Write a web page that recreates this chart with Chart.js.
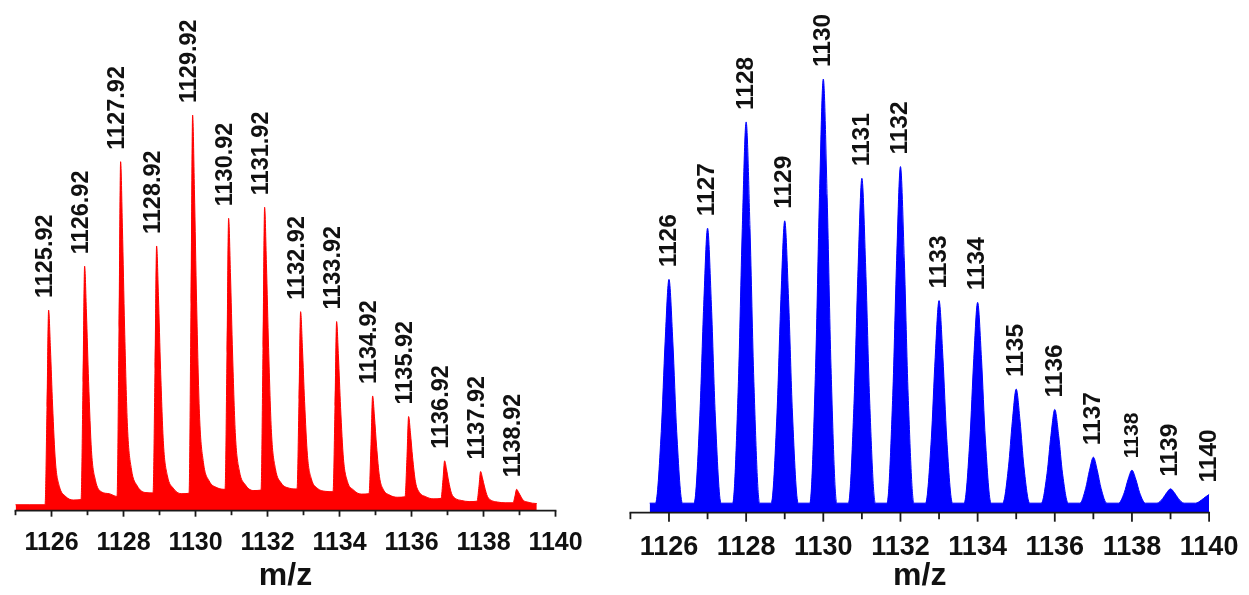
<!DOCTYPE html>
<html>
<head>
<meta charset="utf-8">
<script src="https://cdn.jsdelivr.net/npm/chart.js@4.4.1/dist/chart.umd.min.js"></script>
<style>
  html, body { margin: 0; padding: 0; background: #fff; }
  #wrap { position: relative; width: 1249px; height: 595px; overflow: hidden; background: #fff; }
  .panel { position: absolute; top: 0; height: 595px; }
  #left { left: 0; width: 600px; }
  #right { left: 600px; width: 649px; }
  canvas { display: block; }
</style>
</head>
<body>
<div id="wrap">
  <div class="panel" id="left"><canvas id="expChart" width="600" height="595"></canvas></div>
  <div class="panel" id="right"><canvas id="simChart" width="649" height="595"></canvas></div>
</div>
<script>
// ---- Measured spectrum (red): m/z and relative intensity profile ----
const expMz = [
  1125.00, 1125.40,
  1125.82, 1125.875, 1125.92, 1125.97, 1126.03, 1126.11, 1126.22, 1126.38, 1126.60,
  1126.82, 1126.875, 1126.92, 1126.97, 1127.03, 1127.11, 1127.22, 1127.38, 1127.60,
  1127.82, 1127.875, 1127.92, 1127.97, 1128.03, 1128.11, 1128.22, 1128.38, 1128.60,
  1128.82, 1128.875, 1128.92, 1128.97, 1129.03, 1129.11, 1129.22, 1129.38, 1129.60,
  1129.82, 1129.875, 1129.92, 1129.97, 1130.03, 1130.11, 1130.22, 1130.38, 1130.60,
  1130.82, 1130.875, 1130.92, 1130.97, 1131.03, 1131.11, 1131.22, 1131.38, 1131.60,
  1131.82, 1131.875, 1131.92, 1131.97, 1132.03, 1132.11, 1132.22, 1132.38, 1132.60,
  1132.82, 1132.875, 1132.92, 1132.97, 1133.03, 1133.11, 1133.22, 1133.38, 1133.60,
  1133.82, 1133.875, 1133.92, 1133.97, 1134.03, 1134.11, 1134.22, 1134.38, 1134.60,
  1134.82, 1134.875, 1134.92, 1134.97, 1135.03, 1135.11, 1135.22, 1135.38, 1135.60,
  1135.82, 1135.875, 1135.92, 1135.97, 1136.03, 1136.11, 1136.22, 1136.38, 1136.60,
  1136.82, 1136.875, 1136.92, 1136.97, 1137.03, 1137.11, 1137.22, 1137.38, 1137.60,
  1137.82, 1137.875, 1137.92, 1137.97, 1138.03, 1138.11, 1138.22, 1138.38, 1138.60,
  1138.82, 1138.875, 1138.92, 1138.97, 1139.03, 1139.11, 1139.22, 1139.36, 1139.48
];
const expIntensity = [
  1.5, 1.5,
  1.5, 26.1, 50.7, 41.1, 26.7, 12.3, 6.1, 3.7, 2.7,
  2.8, 32.3, 61.8, 50.2, 32.7, 15.2, 7.7, 4.8, 4.3,
  3.6, 45.9, 88.2, 71.5, 46.4, 21.3, 10.5, 6.3, 4.6,
  4.5, 35.8, 66.9, 54.4, 35.7, 16.9, 8.8, 5.7, 4.3,
  4.4, 52.2, 100.0, 81.1, 52.8, 24.5, 12.2, 7.5, 5.8,
  5.4, 39.8, 73.9, 60.2, 39.6, 18.9, 10.0, 6.6, 5.1,
  5.2, 41.0, 76.7, 62.5, 41.2, 19.8, 10.6, 7.0, 5.7,
  5.5, 28.0, 50.3, 41.2, 27.6, 13.9, 8.0, 5.7, 4.9,
  4.8, 26.3, 47.8, 39.1, 26.1, 13.1, 7.4, 5.3, 4.2,
  4.3, 16.7, 29.0, 23.9, 16.3, 8.6, 5.3, 4.0, 3.4,
  3.5, 13.7, 23.8, 19.7, 13.5, 7.3, 4.6, 3.6, 3.0,
  3.1, 7.9, 12.6, 10.6, 7.5, 4.4, 3.1, 2.6, 2.3,
  2.4, 6.2, 9.9, 8.3, 6.0, 3.6, 2.6, 2.2, 2.0,
  2.0, 3.7, 5.4, 4.7, 3.7, 2.6, 2.2, 1.9, 1.8
];
// Labelled peaks of the measured spectrum
const expPeakMz = [1125.92, 1126.92, 1127.92, 1128.92, 1129.92, 1130.92, 1131.92,
                   1132.92, 1133.92, 1134.92, 1135.92, 1136.92, 1137.92, 1138.92];
const expPeakIntensity = [50.7, 61.8, 88.2, 66.9, 100.0, 73.9, 76.7,
                          50.3, 47.8, 29.0, 23.8, 12.6, 9.9, 5.4];

// ---- Simulated isotope pattern (blue) ----
const simMz = [
  1125.50,
  1125.65, 1125.80, 1125.90, 1126.00, 1126.10, 1126.20, 1126.35,
  1126.65, 1126.80, 1126.90, 1127.00, 1127.10, 1127.20, 1127.35,
  1127.65, 1127.80, 1127.90, 1128.00, 1128.10, 1128.20, 1128.35,
  1128.65, 1128.80, 1128.90, 1129.00, 1129.10, 1129.20, 1129.35,
  1129.65, 1129.80, 1129.90, 1130.00, 1130.10, 1130.20, 1130.35,
  1130.65, 1130.80, 1130.90, 1131.00, 1131.10, 1131.20, 1131.35,
  1131.65, 1131.80, 1131.90, 1132.00, 1132.10, 1132.20, 1132.35,
  1132.65, 1132.80, 1132.90, 1133.00, 1133.10, 1133.20, 1133.35,
  1133.65, 1133.80, 1133.90, 1134.00, 1134.10, 1134.20, 1134.35,
  1134.65, 1134.80, 1134.90, 1135.00, 1135.10, 1135.20, 1135.35,
  1135.65, 1135.80, 1135.90, 1136.00, 1136.10, 1136.20, 1136.35,
  1136.65, 1136.80, 1136.90, 1137.00, 1137.10, 1137.20, 1137.35,
  1137.65, 1137.80, 1137.90, 1138.00, 1138.10, 1138.20, 1138.35,
  1138.65, 1138.80, 1138.90, 1139.00, 1139.10, 1139.20, 1139.35,
  1139.65, 1139.80, 1139.90, 1140.00
];
const simIntensity = [
  2.2,
  2.2, 18.7, 39.4, 53.8, 39.4, 18.7, 2.2,
  2.2, 22.5, 47.8, 65.6, 47.8, 22.5, 2.2,
  2.2, 30.3, 65.5, 90.1, 65.5, 30.3, 2.2,
  2.2, 23.0, 49.1, 67.3, 49.1, 23.0, 2.2,
  2.2, 33.5, 72.6, 100.0, 72.6, 33.5, 2.2,
  2.2, 26.2, 56.1, 77.1, 56.1, 26.2, 2.2,
  2.2, 27.0, 58.1, 79.8, 58.1, 27.0, 2.2,
  2.2, 17.1, 35.8, 48.9, 35.8, 17.1, 2.2,
  2.2, 17.0, 35.5, 48.5, 35.5, 17.0, 2.2,
  2.2, 10.6, 21.1, 28.5, 21.1, 10.6, 2.2,
  2.2, 9.1, 17.8, 23.8, 17.8, 9.1, 2.2,
  2.2, 5.6, 9.8, 12.8, 9.8, 5.6, 2.2,
  2.2, 4.6, 7.7, 9.8, 7.7, 4.6, 2.2,
  2.2, 3.3, 4.6, 5.5, 4.6, 3.3, 2.2,
  2.2, 2.9, 3.6, 4.2
];
const simPeakMz = [1126, 1127, 1128, 1129, 1130, 1131, 1132, 1133,
                   1134, 1135, 1136, 1137, 1138, 1139, 1140];
const simPeakIntensity = [53.8, 65.6, 90.1, 67.3, 100.0, 77.1, 79.8, 48.9,
                          48.5, 28.5, 23.8, 12.8, 9.8, 5.5, 4.2];

// Axis range shared by both panels
const mzMin = 1125;
const mzMax = 1140;
const axisTitle = 'm/z';

const FONT = '"Liberation Sans", Arial, Helvetica, sans-serif';
const INK = '#111111';

// Axis line plus major (even) and minor (odd) tick marks along the x scale
const tickMarks = {
  id: 'tickMarks',
  afterDraw(chart, args, opts) {
    const sc = chart.scales.x;
    const ctx = chart.ctx;
    const y0 = sc.top;
    ctx.save();
    ctx.strokeStyle = opts.color;
    ctx.lineWidth = opts.width;
    ctx.lineCap = 'butt';
    ctx.beginPath();
    ctx.moveTo(sc.left - opts.width / 2, y0);
    ctx.lineTo(sc.right + opts.width / 2, y0);
    ctx.stroke();
    sc.ticks.forEach(t => {
      const px = sc.getPixelForValue(t.value);
      const len = (Math.round(t.value) % 2 === 0) ? opts.major : opts.minor;
      ctx.beginPath();
      ctx.moveTo(px, y0);
      ctx.lineTo(px, y0 + len);
      ctx.stroke();
    });
    ctx.restore();
  }
};

// Vertical peak annotations above each labelled peak
const peakLabels = {
  id: 'peakLabels',
  afterDatasetsDraw(chart, args, opts) {
    const ctx = chart.ctx;
    const xs = chart.scales.x, ys = chart.scales.y;
    ctx.save();
    ctx.fillStyle = INK;
    ctx.textBaseline = 'middle';
    ctx.textAlign = 'left';
    opts.mz.forEach((m, i) => {
      const px = xs.getPixelForValue(m) + opts.dx;
      const py = ys.getPixelForValue(opts.intensity[i]) - opts.gap;
      const size = opts.sizes ? opts.sizes[i] : opts.size;
      ctx.save();
      ctx.translate(px, py);
      ctx.rotate(-Math.PI / 2);
      ctx.font = 'bold ' + size + 'px ' + FONT;
      ctx.fillText(opts.format(m), 0, 0);
      ctx.restore();
    });
    ctx.restore();
  }
};

function spectrumChart(canvasId, cfg) {
  const points = cfg.mz.map((m, i) => ({ x: m, y: cfg.intensity[i] }));
  return new Chart(document.getElementById(canvasId), {
    type: 'line',
    data: {
      datasets: [{
        data: points,
        borderColor: cfg.color,
        backgroundColor: cfg.color,
        borderWidth: 1,
        pointRadius: 0,
        fill: 'origin',
        cubicInterpolationMode: 'monotone',
        clip: false
      }]
    },
    options: {
      responsive: false,
      animation: false,
      devicePixelRatio: 1,
      layout: { padding: cfg.padding },
      plugins: {
        legend: { display: false },
        tooltip: { enabled: false },
        tickMarks: { color: '#1a1a1a', width: 1.8, major: cfg.majorTick, minor: cfg.minorTick },
        peakLabels: {
          mz: cfg.peakMz, intensity: cfg.peakIntensity, format: cfg.format,
          size: cfg.labelSize, sizes: cfg.labelSizes, gap: 12, dx: cfg.labelDx
        }
      },
      scales: {
        x: {
          type: 'linear',
          min: mzMin,
          max: mzMax,
          grid: { display: false },
          border: { display: false },
          ticks: {
            stepSize: 1,
            autoSkip: false,
            maxRotation: 0,
            padding: cfg.tickPad,
            color: INK,
            font: { family: FONT, size: cfg.tickSize, weight: 'bold' },
            callback: v => (Math.round(v) % 2 === 0 ? String(Math.round(v)) : '')
          },
          title: {
            display: true,
            text: axisTitle,
            color: INK,
            font: { family: FONT, size: 32, weight: 'bold' },
            padding: { top: 0, bottom: 0 }
          },
          afterFit: s => { s.height = cfg.axisHeight; }
        },
        y: { display: false, min: 0, max: 100 }
      }
    },
    plugins: [tickMarks, peakLabels]
  });
}

spectrumChart('expChart', {
  mz: expMz, intensity: expIntensity, color: '#ff0000',
  peakMz: expPeakMz, peakIntensity: expPeakIntensity,
  format: m => m.toFixed(2), labelSize: 23.5, labelDx: -3,
  padding: { top: 115, left: 15.5, right: 44.5, bottom: 0 },
  axisHeight: 84.3, tickPad: 9.3, tickSize: 25, majorTick: 6, minorTick: 4.5
});

spectrumChart('simChart', {
  mz: simMz, intensity: simIntensity, color: '#0000ff',
  peakMz: simPeakMz, peakIntensity: simPeakIntensity,
  format: m => String(m), labelSize: 24.5,
  labelSizes: [24.5, 24.5, 24.5, 24.5, 24.5, 24.5, 24.5, 24.5, 24.5, 24.5, 24.5, 24.5, 21, 24.5, 24.5],
  labelDx: 0,
  padding: { top: 79, left: 30.4, right: 34.7, bottom: 0 },
  axisHeight: 82.3, tickPad: 10.6, tickSize: 27, majorTick: 9, minorTick: 6.5
});
</script>
</body>
</html>
